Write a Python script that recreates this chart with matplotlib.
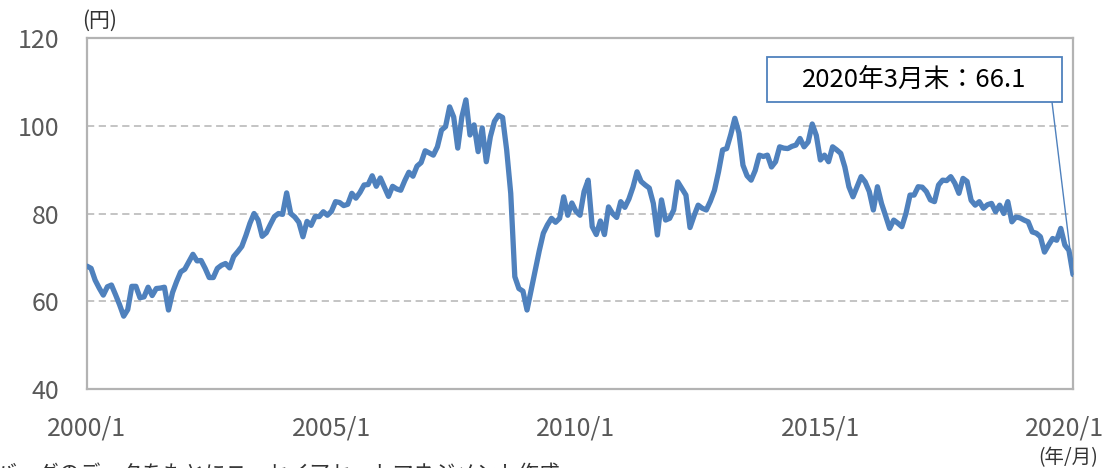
import numpy as np
import matplotlib
matplotlib.use("Agg")
import matplotlib.pyplot as plt
from matplotlib.patches import Rectangle

plt.rcParams['font.family'] = ['Noto Sans CJK JP', 'DejaVu Sans']

# monthly values (yen), 2000/1 - 2020/3
y2000 = [68.0, 67.5, 64.8, 63.0, 61.4, 63.3, 63.7, 61.5, 59.2, 56.6, 58.1, 63.4]
y2001 = [63.4, 60.8, 61.0, 63.2, 61.3, 62.9, 63.0, 63.2, 58.0, 62.0, 64.5, 66.7]
y2002 = [67.3, 69.0, 70.7, 69.2, 69.3, 67.5, 65.4, 65.4, 67.5, 68.2, 68.6, 67.6]
y2003 = [70.2, 71.3, 72.5, 75.0, 77.8, 80.0, 78.5, 74.8, 75.6, 77.5, 79.3, 80.0]
y2004 = [79.8, 84.7, 80.0, 79.2, 78.0, 74.7, 78.2, 77.3, 79.3, 79.3, 80.4, 79.6]
y2005 = [80.5, 82.7, 82.5, 81.8, 82.1, 84.6, 83.5, 84.8, 86.5, 86.6, 88.6, 86.2]
y2006 = [88.1, 86.0, 83.9, 86.2, 85.6, 85.3, 87.5, 89.4, 88.5, 90.8, 91.6, 94.3]
y2007 = [93.8, 93.3, 95.2, 99.0, 99.8, 104.3, 102.0, 94.9, 102.0, 105.9, 97.9, 100.2]
y2008 = [94.1, 99.5, 91.8, 97.5, 101.0, 102.4, 101.9, 94.5, 84.6, 65.6, 62.9, 62.3]
y2009 = [58.0, 62.5, 67.0, 71.5, 75.5, 77.4, 78.9, 78.0, 78.9, 83.8, 79.6, 82.4]
y2010 = [80.5, 79.6, 85.0, 87.6, 77.0, 75.2, 78.3, 75.2, 81.5, 80.0, 79.1, 82.7]
y2011 = [81.4, 83.3, 86.0, 89.5, 87.3, 86.5, 85.8, 82.3, 75.1, 83.1, 78.5, 78.9]
y2012 = [80.8, 87.2, 85.7, 84.2, 76.8, 79.5, 81.9, 81.2, 80.8, 82.8, 85.3, 89.5]
y2013 = [94.5, 94.8, 98.0, 101.7, 98.4, 91.0, 88.6, 87.6, 89.8, 93.3, 93.0, 93.3]
y2014 = [90.6, 91.8, 95.2, 94.9, 94.8, 95.3, 95.6, 97.1, 95.2, 96.3, 100.4, 97.8]
y2015 = [92.2, 93.3, 91.8, 95.2, 94.5, 93.7, 90.6, 86.1, 83.8, 86.1, 88.4, 87.2]
y2016 = [85.0, 80.8, 86.1, 82.3, 79.5, 76.6, 78.5, 77.8, 77.0, 80.0, 84.2, 84.2]
y2017 = [86.1, 86.0, 85.0, 83.1, 82.7, 86.5, 87.6, 87.5, 88.4, 86.9, 84.6, 88.0]
y2018 = [87.3, 83.0, 81.9, 82.7, 81.2, 82.0, 82.3, 80.4, 81.9, 80.0, 82.7, 78.1]
y2019 = [79.2, 79.0, 78.5, 78.1, 75.8, 75.5, 74.7, 71.2, 72.8, 74.3, 73.9, 76.6]
y2020 = [72.8, 71.6, 66.1]

xtick_pos = [0, 60, 120, 180, 240]
xtick_labels = ['2000/1', '2005/1', '2010/1', '2015/1', '2020/1']
yticks = [40, 60, 80, 100, 120]
last_label = '2020年3月末：66.1'
source_note = '出所：ブルームバーグのデータをもとにニッセイアセットマネジメント作成'

rate = np.array(y2000 + y2001 + y2002 + y2003 + y2004 + y2005 + y2006 + y2007
                + y2008 + y2009 + y2010 + y2011 + y2012 + y2013 + y2014 + y2015
                + y2016 + y2017 + y2018 + y2019 + y2020)
months = np.arange(len(rate))

W, H = 1117, 468
fig = plt.figure(figsize=(W/100, H/100), dpi=100)
ax = fig.add_axes([87/W, 1-389/H, 986/W, 351/H])

blue = '#4f81bd'
ax.plot(months, rate, color=blue, lw=3.8, solid_joinstyle='round',
        solid_capstyle='round', zorder=3)
ax.set_xlim(0, len(rate)-1)
ax.set_ylim(40, 120)
for v in yticks[1:-1]:
    ax.axhline(v, color='#bfbfbf', lw=1.3, ls=(0, (4, 2.5)), zorder=1)

ax.set_yticks(yticks)
ax.set_xticks(xtick_pos)
ax.set_xticklabels(xtick_labels)
ax.tick_params(axis='both', length=0, labelsize=18, colors='#595959')
ax.tick_params(axis='x', pad=19)
ax.tick_params(axis='y', pad=20)
for s in ax.spines.values():
    s.set_color('#b3b3b3')
    s.set_linewidth(1.6)

# label box + leader line to the last point
ax.annotate('', xy=(months[-1], rate[-1]), xytext=(0.9787, 0.8177),
            textcoords='axes fraction',
            arrowprops=dict(arrowstyle='-', color=blue, lw=1.0,
                            shrinkA=0, shrinkB=0), zorder=4)
ax.add_patch(Rectangle((0.6897, 0.8177), 0.2991, 0.1282, transform=ax.transAxes,
                       fc='white', ec=blue, lw=1.3, zorder=5))
ax.text(0.839, 0.882, last_label, transform=ax.transAxes, ha='center',
        va='center', fontsize=18.5, color='black', zorder=6)

fig.text(82/W, 1-21/H, '(円)', ha='left', va='center', fontsize=15, color='#333333')
fig.text(1068/W, 1-458/H, '(年/月)', ha='center', va='center', fontsize=14,
         color='#333333')
fig.text(560/W, 1-463/H, source_note, ha='right', va='top', fontsize=15,
         color='#333333')

fig.savefig('out.png', dpi=100)
